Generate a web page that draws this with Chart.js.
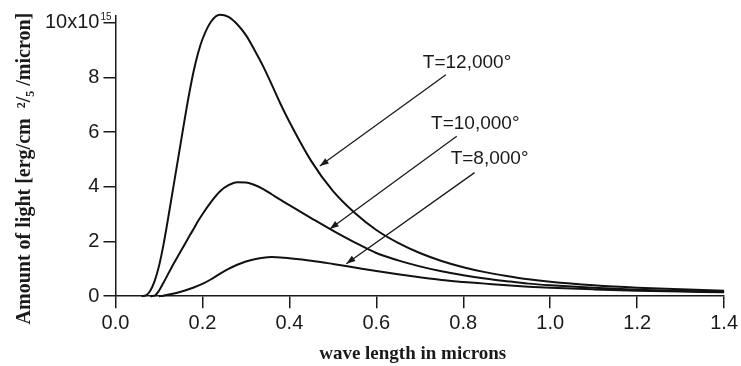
<!DOCTYPE html>
<html>
<head>
<meta charset="utf-8">
<script src="https://cdn.jsdelivr.net/npm/chart.js@4.4.1/dist/chart.umd.min.js"></script>
<style>
	html, body { margin: 0; padding: 0; background: #fff; }
	#wrap { width: 741px; height: 366px; }
</style>
</head>
<body>
<div id="wrap"><canvas id="planckChart"></canvas></div>
<script>
// 파장 (micron) / 빛의 양 (x10^15) - 그림에서 읽은 값
const wave12000 = [0.06, 0.07, 0.08, 0.09, 0.10, 0.11, 0.12, 0.13, 0.14, 0.15, 0.16, 0.17, 0.18, 0.19, 0.20, 0.22, 0.24, 0.26, 0.28, 0.30, 0.32, 0.34, 0.36, 0.38, 0.40, 0.45, 0.50, 0.55, 0.60, 0.65, 0.70, 0.75, 0.80, 0.85, 0.90, 0.95, 1.00, 1.10, 1.20, 1.30, 1.40];
const light12000 = [0, 0.03, 0.2, 0.55, 1.1, 1.85, 2.75, 3.7, 4.65, 5.6, 6.55, 7.45, 8.25, 8.9, 9.4, 10.05, 10.3, 10.22, 9.95, 9.55, 9.0, 8.4, 7.72, 7.02, 6.38, 4.95, 3.85, 3.05, 2.42, 1.95, 1.58, 1.29, 1.06, 0.88, 0.74, 0.62, 0.53, 0.40, 0.31, 0.25, 0.20];

const wave10000 = [0.08, 0.09, 0.10, 0.11, 0.12, 0.13, 0.14, 0.15, 0.16, 0.17, 0.18, 0.19, 0.20, 0.22, 0.24, 0.26, 0.28, 0.30, 0.32, 0.34, 0.36, 0.38, 0.40, 0.45, 0.50, 0.55, 0.60, 0.65, 0.70, 0.75, 0.80, 0.85, 0.90, 0.95, 1.00, 1.10, 1.20, 1.30, 1.40];
const light10000 = [0, 0.02, 0.2, 0.48, 0.78, 1.08, 1.36, 1.64, 1.92, 2.2, 2.47, 2.75, 3.0, 3.45, 3.83, 4.06, 4.17, 4.16, 4.07, 3.92, 3.72, 3.52, 3.33, 2.86, 2.40, 1.97, 1.58, 1.31, 1.09, 0.91, 0.77, 0.65, 0.55, 0.46, 0.40, 0.31, 0.24, 0.19, 0.16];

const wave8000 = [0.10, 0.11, 0.12, 0.14, 0.16, 0.18, 0.20, 0.22, 0.24, 0.26, 0.28, 0.30, 0.32, 0.34, 0.36, 0.38, 0.40, 0.45, 0.50, 0.55, 0.60, 0.65, 0.70, 0.75, 0.80, 0.85, 0.90, 0.95, 1.00, 1.10, 1.20, 1.30, 1.40];
const light8000 = [0, 0.02, 0.05, 0.12, 0.21, 0.32, 0.45, 0.62, 0.82, 1.0, 1.15, 1.27, 1.35, 1.41, 1.43, 1.42, 1.39, 1.3, 1.18, 1.05, 0.92, 0.80, 0.69, 0.59, 0.52, 0.46, 0.40, 0.35, 0.31, 0.25, 0.20, 0.17, 0.14];

const curveLabels = ['T=12,000°', 'T=10,000°', 'T=8,000°'];

function toPoints(xs, ys) {
	return xs.map((x, i) => ({ x: x, y: ys[i] }));
}

// 곡선 라벨 + 화살표 (데이터 좌표 기준)
const arrowPlugin = {
	id: 'curveArrows',
	afterDatasetsDraw(chart) {
		const { ctx, scales: { x, y } } = chart;
		const notes = [
			{ text: curveLabels[0], at: [0.707, 8.53], from: [0.76, 8.1], to: [0.47, 4.76] },
			{ text: curveLabels[1], at: [0.726, 6.31], from: [0.785, 5.85], to: [0.493, 2.46] },
			{ text: curveLabels[2], at: [0.771, 5.04], from: [0.826, 4.52], to: [0.531, 1.19] }
		];
		ctx.save();
		ctx.fillStyle = '#1a1a1a';
		ctx.strokeStyle = '#1a1a1a';
		ctx.font = '19px "Liberation Sans", Arial, sans-serif';
		ctx.textAlign = 'left';
		ctx.textBaseline = 'middle';
		notes.forEach(n => {
			ctx.fillText(n.text, x.getPixelForValue(n.at[0]), y.getPixelForValue(n.at[1]));
			const x1 = x.getPixelForValue(n.from[0]), y1 = y.getPixelForValue(n.from[1]);
			const x2 = x.getPixelForValue(n.to[0]), y2 = y.getPixelForValue(n.to[1]);
			ctx.lineWidth = 1.3;
			ctx.beginPath();
			ctx.moveTo(x1, y1);
			ctx.lineTo(x2, y2);
			ctx.stroke();
			const ang = Math.atan2(y2 - y1, x2 - x1);
			const len = 9, half = 3.2;
			ctx.beginPath();
			ctx.moveTo(x2, y2);
			ctx.lineTo(x2 - len * Math.cos(ang) + half * Math.sin(ang), y2 - len * Math.sin(ang) - half * Math.cos(ang));
			ctx.lineTo(x2 - len * Math.cos(ang) - half * Math.sin(ang), y2 - len * Math.sin(ang) + half * Math.cos(ang));
			ctx.closePath();
			ctx.fill();
		});
		ctx.restore();
	}
};

// 10x10^15 의 지수 부분
const exponentPlugin = {
	id: 'yExponent',
	afterDraw(chart) {
		const { ctx, scales: { y } } = chart;
		const py = y.getPixelForValue(10);
		const labelRight = y.right - 12 - 4;
		ctx.save();
		ctx.fillStyle = '#1a1a1a';
		ctx.font = '10px "Liberation Sans", Arial, sans-serif';
		ctx.textAlign = 'left';
		ctx.textBaseline = 'alphabetic';
		ctx.fillText('15', labelRight + 1, py - 3);
		ctx.restore();
	}
};

const lineStyle = {
	borderColor: '#111',
	backgroundColor: '#111',
	borderWidth: 2,
	pointRadius: 0,
	cubicInterpolationMode: 'monotone',
	fill: false,
	clip: 6
};

new Chart(document.getElementById('planckChart'), {
	type: 'line',
	data: {
		datasets: [
			Object.assign({ label: curveLabels[0], data: toPoints(wave12000, light12000) }, lineStyle),
			Object.assign({ label: curveLabels[1], data: toPoints(wave10000, light10000) }, lineStyle),
			Object.assign({ label: curveLabels[2], data: toPoints(wave8000, light8000) }, lineStyle)
		]
	},
	options: {
		responsive: true,
		maintainAspectRatio: false,
		animation: false,
		layout: { padding: { left: 13, right: 11, top: 10, bottom: 1 } },
		plugins: {
			legend: { display: false },
			tooltip: { enabled: false }
		},
		scales: {
			x: {
				type: 'linear',
				min: 0,
				max: 1.4,
				grid: { drawOnChartArea: false, drawTicks: true, tickLength: 12, color: '#1a1a1a', lineWidth: 1.5 },
				border: { display: true, color: '#1a1a1a', width: 1.5 },
				ticks: {
					stepSize: 0.2,
					padding: 3,
					color: '#1a1a1a',
					font: { family: '"Liberation Sans", Arial, sans-serif', size: 20 },
					callback: function(value) {
						return value.toFixed(1);
					}
				},
				title: {
					display: true,
					// 뒤쪽 공백은 가운데 정렬을 왼쪽으로 조금 옮기기 위함
					text: 'wave length in microns\u00a0\u00a0\u00a0',
					color: '#1a1a1a',
					padding: { top: 4, bottom: 0 },
					font: { family: '"Liberation Serif", "Times New Roman", serif', size: 19, weight: 'bold' }
				}
			},
			y: {
				type: 'linear',
				min: 0,
				max: 10.25,
				grid: { drawOnChartArea: false, drawTicks: true, tickLength: 12, color: '#1a1a1a', lineWidth: 1.5 },
				border: { display: true, color: '#1a1a1a', width: 1.5 },
				ticks: {
					stepSize: 2,
					includeBounds: false,
					padding: 4,
					color: '#1a1a1a',
					font: { family: '"Liberation Sans", Arial, sans-serif', size: 20 },
					callback: function(value) {
						return value === 10 ? '10x10' : value;
					}
				},
				title: {
					display: true,
					text: 'Amount of light [erg/cm\u00a0 ²/₅ /micron]\u00a0\u00a0\u00a0\u00a0\u00a0',
					color: '#1a1a1a',
					padding: { top: 0, bottom: 4 },
					font: { family: '"Liberation Serif", "Times New Roman", serif', size: 20, weight: 'bold' }
				}
			}
		}
	},
	plugins: [arrowPlugin, exponentPlugin]
});
</script>
</body>
</html>
